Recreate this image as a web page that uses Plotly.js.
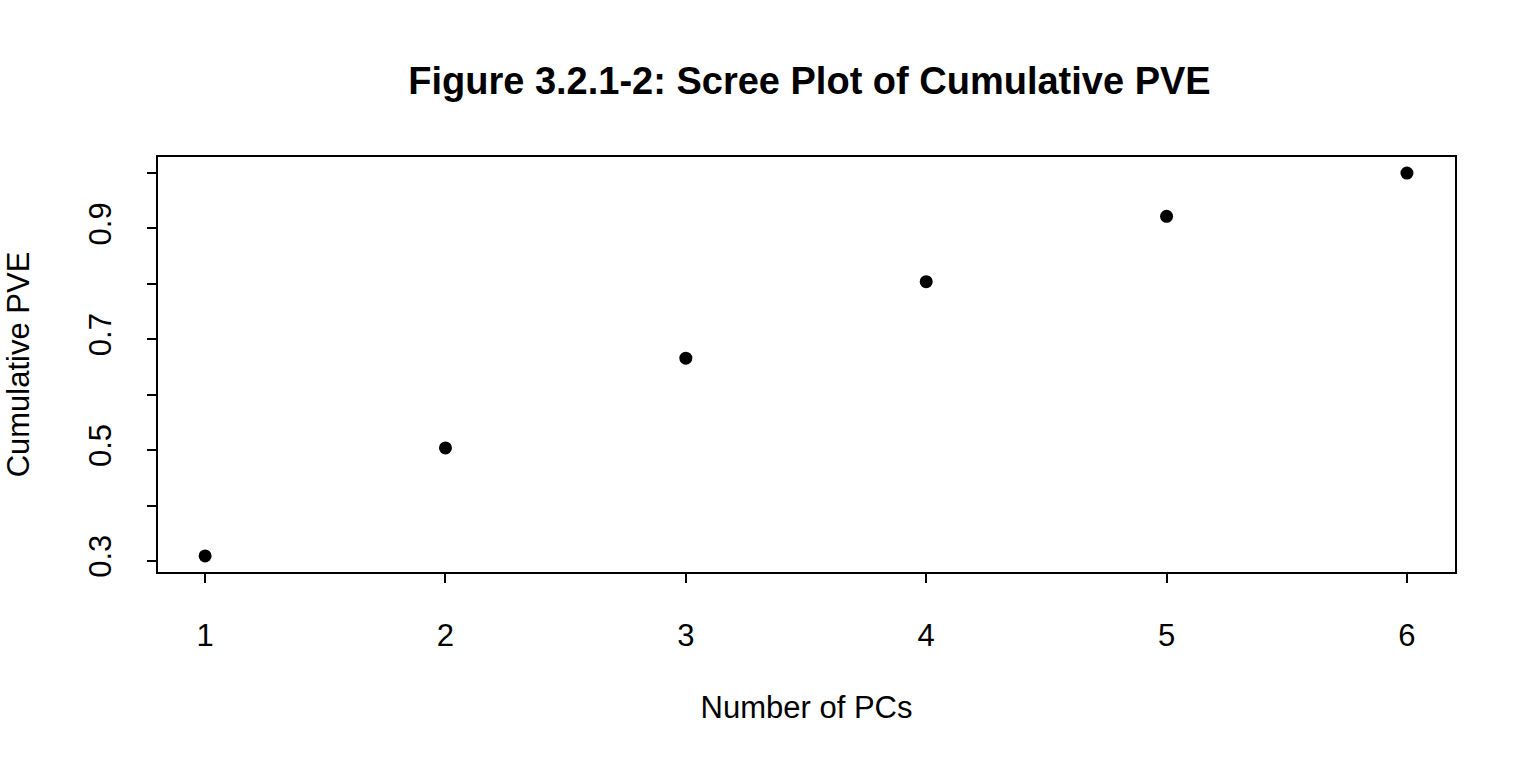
<!DOCTYPE html>
<html><head><meta charset="utf-8">
<script src="https://cdn.plot.ly/plotly-3.0.1.min.js"></script>
<style>body{margin:0;background:#fff}</style></head>
<body><div id="c" style="width:1536px;height:768px"></div>
<script>
const pcs = [1, 2, 3, 4, 5, 6];
const cumPVE = [0.309, 0.504, 0.666, 0.804, 0.922, 1.0];
const yTickVals = [0.3, 0.4, 0.5, 0.6, 0.7, 0.8, 0.9, 1.0];
const yTickText = ['0.3', '', '0.5', '', '0.7', '', '0.9', ''];
const F = 'Liberation Sans, Arial, sans-serif';
Plotly.newPlot('c', [{
  x: pcs, y: cumPVE, mode: 'markers', type: 'scatter',
  marker: {color: '#000', size: 13}
}], {
  width: 1536, height: 768,
  margin: {l: 158, r: 81, t: 157, b: 196},
  paper_bgcolor: '#fff', plot_bgcolor: '#fff',
  font: {family: F, color: '#000', size: 31},
  showlegend: false,
  title: {text: '<b>Figure 3.2.1-2: Scree Plot of Cumulative PVE</b>', font: {size: 38, family: F}, x: 0.527, xanchor: 'center', y: 0.895, yanchor: 'middle'},
  xaxis: {range: [0.804, 6.2], tickvals: pcs, ticks: 'outside', ticklen: 9, tickcolor: '#000', tickwidth: 1.5,
    showline: true, linecolor: '#000', linewidth: 1.5, mirror: true, showgrid: false, zeroline: false,
    ticklabelstandoff: 26, tickfont: {size: 31},
    title: {text: 'Number of PCs', font: {size: 31}, standoff: 44}},
  yaxis: {range: [0.280, 1.029], tickvals: yTickVals, ticktext: yTickText, ticks: 'outside', ticklen: 9, tickcolor: '#000', tickwidth: 1.5,
    tickangle: -90, showline: true, linecolor: '#000', linewidth: 1.5, mirror: true, showgrid: false, zeroline: false,
    ticklabelstandoff: 24, tickfont: {size: 31},
    title: {text: 'Cumulative PVE', font: {size: 31}, standoff: 44}}
}, {displayModeBar: false});
</script></body></html>
